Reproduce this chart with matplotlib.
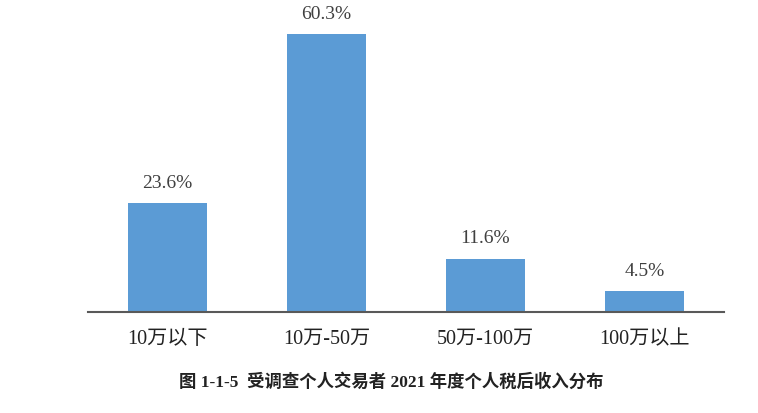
import matplotlib
matplotlib.use("Agg")
import matplotlib.pyplot as plt

categories = ["10万以下", "10万-50万", "50万-100万", "100万以上"]
values = [23.6, 60.3, 11.6, 4.5]
value_labels = ["23.6%", "60.3%", "11.6%", "4.5%"]
caption = "图 1-1-5  受调查个人交易者 2021 年度个人税后收入分布"

fam = ["Liberation Serif", "Noto Sans CJK SC"]
W, H = 758, 413
fig = plt.figure(figsize=(W / 100, H / 100), dpi=100)
ax = fig.add_axes([88 / W, (H - 312) / H, (724 - 88) / W, (312 - 20) / H])
x = list(range(len(categories)))
ax.bar(x, values, width=0.5, color="#5B9BD5", zorder=2)
ax.set_xlim(-0.5, len(categories) - 0.5)
ax.set_ylim(0, (312 - 20) / 4.61)
for s in ["top", "right", "left"]:
    ax.spines[s].set_visible(False)
ax.spines["bottom"].set_color("#595959")
ax.spines["bottom"].set_linewidth(1.5)
ax.set_yticks([])
ax.set_xticks(x)
ax.set_xticklabels(categories, family=fam, fontsize=14.5, color="#222222")
ax.tick_params(axis="x", length=0, pad=13)
for xi, v, lab in zip(x, values, value_labels):
    ax.annotate(lab, (xi, v), xytext=(0, 8), textcoords="offset points",
                ha="center", va="bottom", family=fam, fontsize=14, color="#404040")
fig.text(391 / W, 1 - 382 / H, caption, ha="center", va="center",
         family=fam, fontsize=12.5, fontweight="bold", color="#222222")
fig.savefig("out.png", dpi=100)
